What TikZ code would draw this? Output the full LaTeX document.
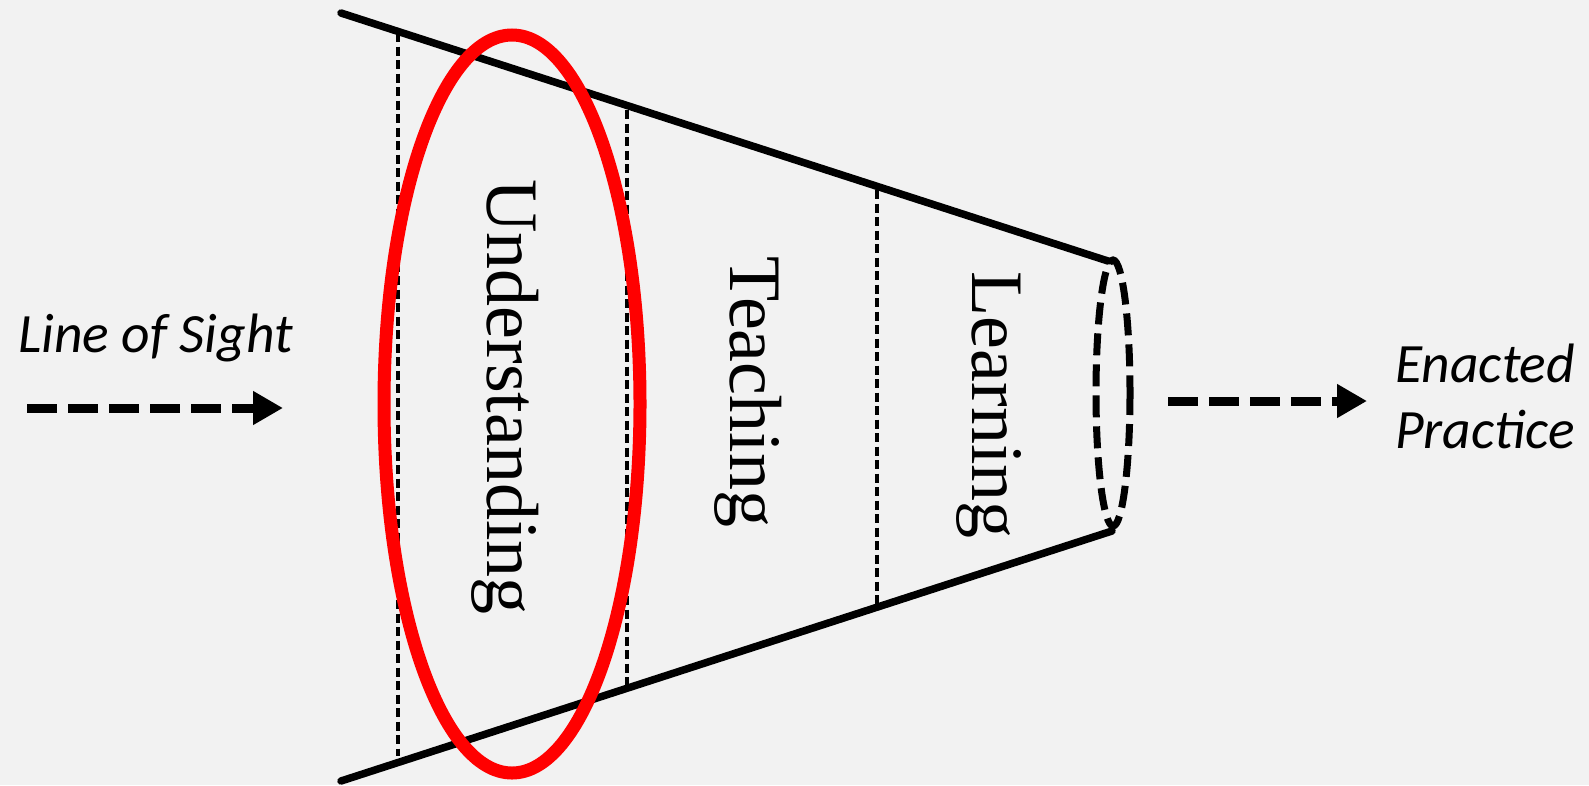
\documentclass[tikz,border=0pt]{standalone}
\usepackage{fontspec}
\setmainfont{Liberation Serif}
\newfontfamily\carl{Carlito}
\usetikzlibrary{arrows.meta}
\definecolor{bg}{HTML}{F2F2F2}
\tikzset{
  funnel/.style={line width=7.5pt, line cap=round},
  divider/.style={line width=3.2pt, dash pattern=on 9pt off 4.5pt},
  flow/.style={line width=9pt, dash pattern=on 30pt off 11pt, -{Triangle[length=30pt,width=32pt]}},
  stage/.style={rotate=-90, anchor=base, inner sep=0pt, font=\fontsize{74pt}{80pt}\selectfont},
  side/.style={inner sep=0pt, anchor=base west, font=\carl\itshape\fontsize{55.5pt}{66pt}\selectfont},
}
\begin{document}
\begin{tikzpicture}[x=1pt,y=-1pt]
\fill[bg] (0,0) rectangle (1589,785);
\useasboundingbox (0,0) rectangle (1589,785);
% funnel
\coordinate (tl) at (341,13);
\coordinate (tr) at (1108,261);
\coordinate (bl) at (341,781);
\coordinate (br) at (1112,531);
\draw[funnel] (tl) -- (tr);
\draw[funnel] (bl) -- (br);
% dividers
\coordinate (d1t) at (398,33);
\coordinate (d1b) at (398,756);
\coordinate (d2t) at (627,110);
\coordinate (d2b) at (627,686);
\coordinate (d3t) at (877,190);
\coordinate (d3b) at (877,606);
\draw[divider] (d1t) -- (d1b);
\draw[divider] (d2t) -- (d2b);
\draw[divider] (d3t) -- (d3b);
% stage labels
\node[stage] (und) at (487,397) {Understanding};
\node[stage] (tea) at (730,392) {Teaching};
\node[stage] (lea) at (972,405) {Learning};
% end ellipse
\draw[line width=7pt, dash pattern=on 22pt off 9pt] (1113,393) ellipse [x radius=17, y radius=133];
% red ellipse
\draw[red, line width=13pt] (512,404) ellipse [x radius=128, y radius=369];
% side texts
\node[side] (los) at (18,352) {Line of Sight};
\node[side] (ena) at (1395,382) {Enacted};
\node[side] (pra) at (1395,448) {Practice};
% arrows
\coordinate (a1s) at (27,408);
\coordinate (a1e) at (283,408);
\coordinate (a2s) at (1168,401);
\coordinate (a2e) at (1367,401);
\draw[flow] (a1s) -- (a1e);
\draw[flow] (a2s) -- (a2e);
\end{tikzpicture}
\end{document}
